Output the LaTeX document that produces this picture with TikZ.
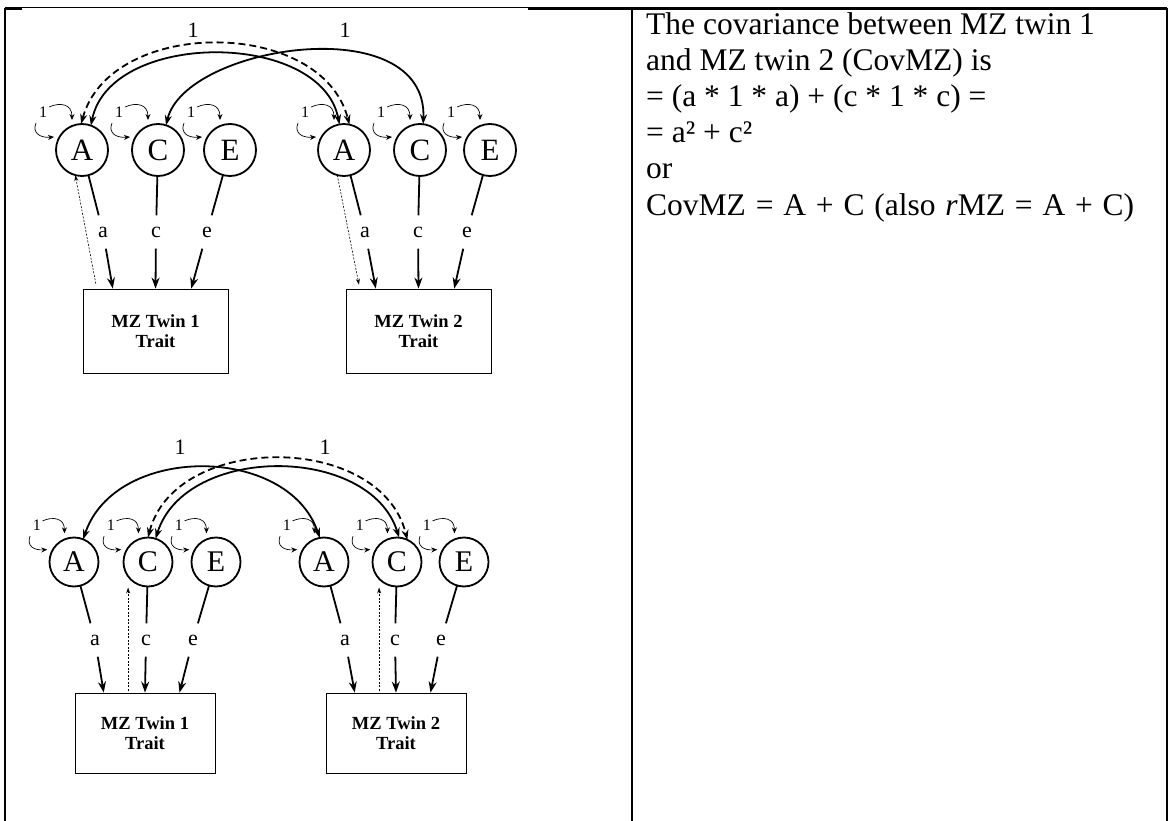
\documentclass[tikz,border=0pt]{standalone}
\usepackage{fontspec}
\setmainfont{Liberation Serif}
\usetikzlibrary{arrows.meta,calc}

\tikzset{
  lat/.style={circle, draw, line width=1.8pt, minimum size=52pt, inner sep=0pt, outer sep=0pt, font=\fontsize{31}{31}\selectfont},
  latb/.style={lat, minimum size=49pt, font=\fontsize{30}{30}\selectfont},
  obs/.style={rectangle, draw, line width=0.8pt, minimum width=145pt, minimum height=84pt, align=center, inner sep=0pt, font=\fontsize{18.5}{20}\selectfont\bfseries},
  obsb/.style={obs, minimum width=140pt, minimum height=80pt},
  pathlbl/.style={inner sep=0pt, minimum height=33pt, font=\fontsize{22}{22}\selectfont},
  pathline/.style={line width=1.8pt},
  patharrow/.style={line width=1.8pt, -{Stealth[length=11pt,width=8pt]}},
  covarc/.style={line width=1.8pt, {Stealth[length=10pt,width=7pt]}-{Stealth[length=10pt,width=7pt]}},
  covdash/.style={covarc, dash pattern=on 7pt off 4pt},
  varloop/.style={line width=0.7pt, -{Stealth[length=6pt,width=5pt]}},
  varlbl/.style={inner sep=0pt, font=\fontsize{16}{16}\selectfont},
  onelbl/.style={inner sep=0pt, font=\fontsize{22}{22}\selectfont},
  tracepath/.style={line width=0.6pt, dash pattern=on 2pt off 1.5pt, -{Stealth[length=6pt,width=4pt]}},
  bodytext/.style={anchor=base west, inner sep=0pt, font=\fontsize{31.5}{36}\selectfont},
  tablerule/.style={line width=2pt},
}

\newcommand\vloop[2]{%
  \begin{scope}[shift={(#1.center)}, scale=#2]
    \node[varlbl] (#1v) at (-39,-38) {1};
    \draw[varloop] (-33,-43) .. controls (-22,-48) and (-10,-46) .. (-10,-30);
    \draw[varloop] (-46,-27) .. controls (-50,-17) and (-42,-12) .. (-28,-13);
  \end{scope}}

\newcommand\acepaths[6]{%
  \node[pathlbl] (a#5) at ([shift={(21,#6)}]#1.center) {a};
  \node[pathlbl] (c#5) at ([shift={(-2,#6)}]#2.center) {c};
  \node[pathlbl] (e#5) at ([shift={(-23,#6)}]#3.center) {e};
  \coordinate (pa#5) at ($(#4.north west)!0.207!(#4.north east)$);
  \coordinate (pc#5) at ($(#4.north west)!0.5!(#4.north east)$);
  \coordinate (pe#5) at ($(#4.north west)!0.745!(#4.north east)$);
  \draw[pathline] (#1) -- (a#5);
  \draw[pathline] (#2) -- (c#5);
  \draw[pathline] (#3) -- (e#5);
  \draw[patharrow] (a#5) -- (pa#5);
  \draw[patharrow] (c#5) -- (pc#5);
  \draw[patharrow] (e#5) -- (pe#5);
}

\begin{document}
\begin{tikzpicture}[x=1pt, y=-1pt]
\fill[white] (0,0) rectangle (1170,821);
\useasboundingbox (0,0) rectangle (1170,821);

% table rules
\draw[line width=1pt] (5,8) -- (1167,8);
\draw[line width=2.4pt] (5,8.6) -- (22,8.6);
\draw[line width=2.4pt] (528,8.8) -- (1167,8.8);
\draw[tablerule] (5,8) -- (5,821);
\draw[tablerule] (632,8) -- (632,821);
\draw[tablerule] (1167,8) -- (1167,821);

% ---------- top diagram ----------
\node[lat] (A1) at (82,150) {A};
\node[lat] (C1) at (158,150) {C};
\node[lat] (E1) at (230,150) {E};
\node[lat] (A2) at (344,150) {A};
\node[lat] (C2) at (420,150) {C};
\node[lat] (E2) at (490,150) {E};
\node[obs] (box1) at (155.5,331) {MZ Twin 1\\Trait};
\node[obs] (box2) at (418.5,331) {MZ Twin 2\\Trait};

\foreach \n in {A1,C1,E1,A2,C2,E2} {\vloop{\n}{1}}

\acepaths{A1}{C1}{E1}{box1}{t1}{82}
\acepaths{A2}{C2}{E2}{box2}{t2}{82}

\draw[covarc] (A1.70) .. controls (110,30) and (321,30) .. (A2.100);
\draw[covdash] (A1.92) .. controls (110,17) and (322,17) .. (A2.78);
\draw[covarc] (C1.72) .. controls (185,45) and (428,8) .. (C2.83);
\node[onelbl] (one1) at (193,30) {1};
\node[onelbl] (one2) at (345,30) {1};

\coordinate (d1) at ($(box1.north west)!0.097!(box1.north east)$);
\coordinate (d2) at ($(box2.north west)!0.097!(box2.north east)$);
\draw[tracepath, shorten <=5pt] (d1) -- (A1.-105);
\draw[tracepath, shorten >=4pt] (A2.-105) -- (d2);

% ---------- bottom diagram ----------
\node[latb] (bA1) at (74,562) {A};
\node[latb] (bC1) at (148,562) {C};
\node[latb] (bE1) at (216,562) {E};
\node[latb] (bA2) at (324,562) {A};
\node[latb] (bC2) at (397,562) {C};
\node[latb] (bE2) at (464,562) {E};
\node[obsb] (bbox1) at (145,733) {MZ Twin 1\\Trait};
\node[obsb] (bbox2) at (396,733) {MZ Twin 2\\Trait};

\foreach \n in {bA1,bC1,bE1,bA2,bC2,bE2} {\vloop{\n}{0.955}}

\acepaths{bA1}{bC1}{bE1}{bbox1}{b1}{78}
\acepaths{bA2}{bC2}{bE2}{bbox2}{b2}{78}

\draw[covarc] (bA1.68) .. controls (115,444) and (288,444) .. (bA2.100);
\draw[covarc] (bC1.72) .. controls (185,444) and (370,444) .. (bC2.85);
\draw[covdash] (bC1.90) .. controls (175,432) and (381,432) .. (bC2.65);
\node[onelbl] (bone1) at (180,447) {1};
\node[onelbl] (bone2) at (325,447) {1};

\coordinate (bd1) at ($(bbox1.north west)!0.38!(bbox1.north east)$);
\coordinate (bd2) at ($(bbox2.north west)!0.38!(bbox2.north east)$);
\draw[tracepath, shorten <=2pt, shorten >=1pt] (bd1) -- (bd1 |- bC1.south);
\draw[tracepath, shorten <=2pt, shorten >=1pt] (bd2) -- (bd2 |- bC2.south);

% ---------- right column text ----------
\node[bodytext] (t1) at (646,35) {The covariance between MZ twin 1};
\node[bodytext] (t2) at (646,71) {and MZ twin 2 (CovMZ) is};
\node[bodytext] (t3) at (646,107) {= (a * 1 * a) + (c * 1 * c) =};
\node[bodytext] (t4) at (646,143) {= a² + c²};
\node[bodytext] (t5) at (646,179) {or};
\node[bodytext] (t6) at (646,215) {\makebox[488pt][s]{CovMZ = A + C (also \textit{r}MZ = A + C)}};
\end{tikzpicture}
\end{document}
